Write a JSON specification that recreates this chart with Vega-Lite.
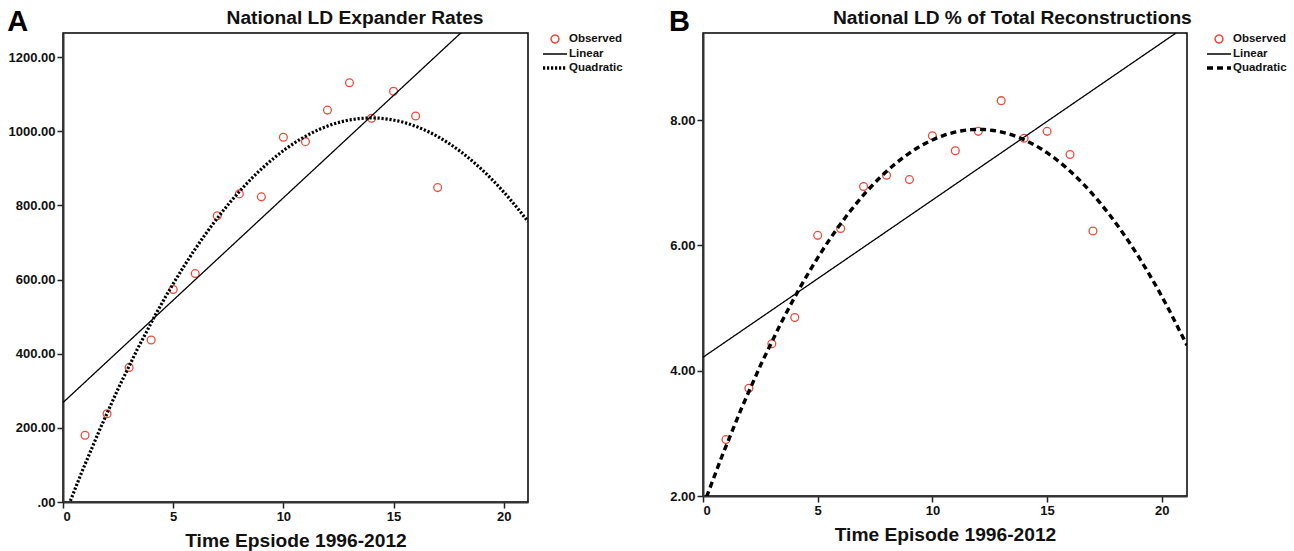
{
  "$schema": "https://vega.github.io/schema/vega-lite/v6.json",
  "background": "white",
  "padding": {"left": 7, "top": 8, "right": 5, "bottom": 0},
  "datasets": {
    "a": [
      {"t": 1, "value": 180, "series": "Observed"},
      {"t": 2, "value": 238, "series": "Observed"},
      {"t": 3, "value": 363, "series": "Observed"},
      {"t": 4, "value": 437, "series": "Observed"},
      {"t": 5, "value": 573, "series": "Observed"},
      {"t": 6, "value": 616, "series": "Observed"},
      {"t": 7, "value": 772, "series": "Observed"},
      {"t": 8, "value": 831, "series": "Observed"},
      {"t": 9, "value": 823, "series": "Observed"},
      {"t": 10, "value": 984, "series": "Observed"},
      {"t": 11, "value": 972, "series": "Observed"},
      {"t": 12, "value": 1057, "series": "Observed"},
      {"t": 13, "value": 1131, "series": "Observed"},
      {"t": 14, "value": 1035, "series": "Observed"},
      {"t": 15, "value": 1108, "series": "Observed"},
      {"t": 16, "value": 1041, "series": "Observed"},
      {"t": 17, "value": 848, "series": "Observed"}
    ],
    "b": [
      {"t": 1, "value": 2.90, "series": "Observed"},
      {"t": 2, "value": 3.72, "series": "Observed"},
      {"t": 3, "value": 4.43, "series": "Observed"},
      {"t": 4, "value": 4.85, "series": "Observed"},
      {"t": 5, "value": 6.16, "series": "Observed"},
      {"t": 6, "value": 6.27, "series": "Observed"},
      {"t": 7, "value": 6.94, "series": "Observed"},
      {"t": 8, "value": 7.12, "series": "Observed"},
      {"t": 9, "value": 7.05, "series": "Observed"},
      {"t": 10, "value": 7.75, "series": "Observed"},
      {"t": 11, "value": 7.51, "series": "Observed"},
      {"t": 12, "value": 7.82, "series": "Observed"},
      {"t": 13, "value": 8.31, "series": "Observed"},
      {"t": 14, "value": 7.71, "series": "Observed"},
      {"t": 15, "value": 7.82, "series": "Observed"},
      {"t": 16, "value": 7.45, "series": "Observed"},
      {"t": 17, "value": 6.23, "series": "Observed"}
    ]
  },
  "config": {
    "font": "Liberation Sans",
    "view": {"stroke": "#000", "strokeWidth": 1.5},
    "axis": {
      "grid": false,
      "domainColor": "#333",
      "domainWidth": 2,
      "tickColor": "#222",
      "tickWidth": 1.5,
      "labelFont": "Liberation Sans",
      "labelFontWeight": "bold",
      "labelFontSize": 13,
      "labelColor": "#111",
      "titleFont": "Liberation Sans",
      "titleFontWeight": "bold",
      "titleFontSize": 19.2,
      "titleColor": "#111"
    },
    "title": {"font": "Liberation Sans", "fontWeight": "bold", "fontSize": 19.2, "color": "#111"},
    "legend": {
      "orient": "right",
      "offset": 20,
      "labelFont": "Liberation Sans",
      "labelFontWeight": "bold",
      "labelFontSize": 11.5,
      "labelColor": "#111",
      "labelOffset": 8,
      "rowPadding": 2,
      "symbolSize": 100,
      "symbolStrokeWidth": 1.5
    },
    "concat": {"spacing": 45}
  },
  "resolve": {"scale": {"color": "independent", "shape": "independent", "strokeDash": "independent"}, "legend": {"color": "independent", "shape": "independent", "strokeDash": "independent"}},
  "hconcat": [
    {
      "title": {"text": "A", "anchor": "start", "frame": "bounds", "fontSize": 29, "fontWeight": "bold", "offset": -29, "color": "#000"},
      "hconcat": [
        {
          "width": 465,
          "height": 469,
          "title": {"text": "National LD Expander Rates", "anchor": "middle", "frame": "bounds", "dx": 87, "offset": 5},
          "data": {"name": "a"},
          "layer": [
            {
              "mark": {"type": "point", "filled": false, "size": 100, "strokeWidth": 1.3, "clip": true, "opacity": 1},
              "encoding": {
                "x": {"field": "t", "type": "quantitative", "scale": {"domain": [0, 21.1], "nice": false, "zero": false},
                      "axis": {"values": [0, 5, 10, 15, 20], "tickSize": 6, "labelPadding": 2, "title": "Time Epsiode 1996-2012", "titlePadding": 8}},
                "y": {"field": "value", "type": "quantitative", "scale": {"domain": [0, 1265], "nice": false, "zero": false},
                      "axis": {"title": null, "values": [0, 100, 200, 300, 400, 500, 600, 700, 800, 900, 1000, 1100, 1200],
                               "labelExpr": "datum.value % 200 === 0 ? (datum.value === 0 ? '.00' : format(datum.value, '.2f')) : ''",
                               "tickSize": {"condition": {"test": "datum.value % 200 !== 0", "value": 3}, "value": 6},
                               "labelPadding": 2}},
                "color": {"field": "series", "type": "nominal",
                          "scale": {"domain": ["Observed", "Linear", "Quadratic"], "range": ["#ee4a3c", "#000000", "#000000"]},
                          "legend": {"title": null}},
                "shape": {"field": "series", "type": "nominal",
                          "scale": {"domain": ["Observed", "Linear", "Quadratic"],
                                    "range": ["M0.78,0A0.78,0.78,0,1,1,-0.78,0A0.78,0.78,0,1,1,0.78,0Z", "M-2.4,0H2.4", "M-2.4,-0.2H2.4M-2.4,0H2.4M-2.4,0.2H2.4"]},
                          "legend": {"title": null}}
              }
            },
            {
              "transform": [{"regression": "value", "on": "t", "method": "linear", "extent": [0, 21.1]}],
              "mark": {"type": "line", "clip": true, "strokeWidth": 1.3},
              "encoding": {
                "x": {"field": "t", "type": "quantitative"},
                "y": {"field": "value", "type": "quantitative"},
                "color": {"datum": "Linear"},
                "strokeDash": {"datum": "Linear", "scale": {"domain": ["Observed", "Linear", "Quadratic"], "range": [[1, 0], [1, 0], [2.2, 1.8]]}, "legend": {"title": null}}
              }
            },
            {
              "transform": [{"regression": "value", "on": "t", "method": "poly", "order": 2, "extent": [0, 21.1]}],
              "mark": {"type": "line", "clip": true, "strokeWidth": 3.2},
              "encoding": {
                "x": {"field": "t", "type": "quantitative"},
                "y": {"field": "value", "type": "quantitative"},
                "color": {"datum": "Quadratic"},
                "strokeDash": {"datum": "Quadratic"}
              }
            }
          ]
        }
      ]
    },
    {
      "title": {"text": "B", "anchor": "start", "frame": "bounds", "fontSize": 29, "fontWeight": "bold", "offset": -29, "color": "#000"},
      "hconcat": [
        {
          "width": 484,
          "height": 463,
          "title": {"text": "National LD % of Total Reconstructions", "anchor": "middle", "frame": "bounds", "dx": 84, "offset": 5},
          "data": {"name": "b"},
          "layer": [
            {
              "mark": {"type": "point", "filled": false, "size": 100, "strokeWidth": 1.3, "clip": true, "opacity": 1},
              "encoding": {
                "x": {"field": "t", "type": "quantitative", "scale": {"domain": [0, 21.1], "nice": false, "zero": false},
                      "axis": {"values": [0, 5, 10, 15, 20], "tickSize": 6, "labelPadding": 2, "title": "Time Episode 1996-2012", "titlePadding": 8}},
                "y": {"field": "value", "type": "quantitative", "scale": {"domain": [2, 9.39], "nice": false, "zero": false},
                      "axis": {"title": null, "values": [2, 4, 6, 8], "labelExpr": "format(datum.value, '.2f')", "tickSize": 6, "labelPadding": 2}},
                "color": {"field": "series", "type": "nominal",
                          "scale": {"domain": ["Observed", "Linear", "Quadratic"], "range": ["#ee4a3c", "#000000", "#000000"]},
                          "legend": {"title": null}},
                "shape": {"field": "series", "type": "nominal",
                          "scale": {"domain": ["Observed", "Linear", "Quadratic"],
                                    "range": ["M0.78,0A0.78,0.78,0,1,1,-0.78,0A0.78,0.78,0,1,1,0.78,0Z", "M-2.4,0H2.4", "M-2.4,-0.2H2.4M-2.4,0H2.4M-2.4,0.2H2.4"]},
                          "legend": {"title": null}}
              }
            },
            {
              "transform": [{"regression": "value", "on": "t", "method": "linear", "extent": [0, 21.1]}],
              "mark": {"type": "line", "clip": true, "strokeWidth": 1.3},
              "encoding": {
                "x": {"field": "t", "type": "quantitative"},
                "y": {"field": "value", "type": "quantitative"},
                "color": {"datum": "Linear"},
                "strokeDash": {"datum": "Linear", "scale": {"domain": ["Observed", "Linear", "Quadratic"], "range": [[1, 0], [1, 0], [6, 4]]}, "legend": {"title": null}}
              }
            },
            {
              "transform": [{"regression": "value", "on": "t", "method": "poly", "order": 2, "extent": [0, 21.1]}],
              "mark": {"type": "line", "clip": true, "strokeWidth": 3.4},
              "encoding": {
                "x": {"field": "t", "type": "quantitative"},
                "y": {"field": "value", "type": "quantitative"},
                "color": {"datum": "Quadratic"},
                "strokeDash": {"datum": "Quadratic"}
              }
            }
          ]
        }
      ]
    }
  ]
}
